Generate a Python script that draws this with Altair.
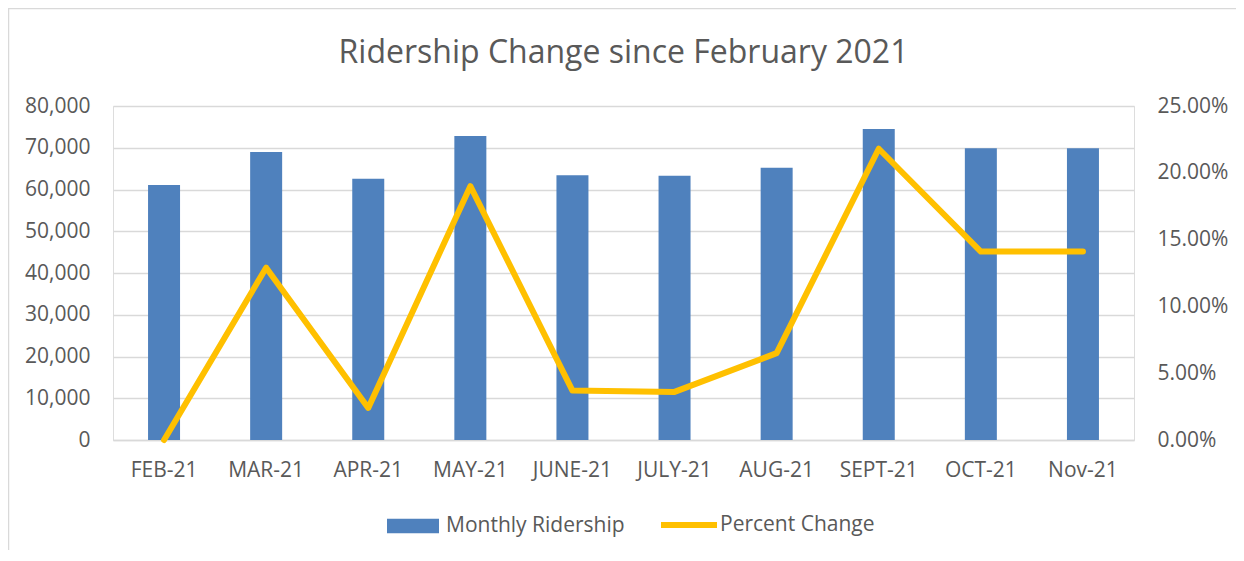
import altair as alt
import pandas as pd

months = ["FEB-21", "MAR-21", "APR-21", "MAY-21", "JUNE-21", "JULY-21",
          "AUG-21", "SEPT-21", "OCT-21", "Nov-21"]
ridership = [61100, 69000, 62600, 72800, 63400, 63300, 65200, 74500, 69900, 69900]
pct_change = [0.0, 0.129, 0.024, 0.190, 0.037, 0.036, 0.065, 0.218, 0.141, 0.141]

left_ticks = [0, 10000, 20000, 30000, 40000, 50000, 60000, 70000, 80000]
right_ticks = [0.0, 0.05, 0.10, 0.15, 0.20, 0.25]

df = pd.DataFrame({"month": months, "ridership": ridership, "pct": pct_change})

FONT = "Open Sans"
TXT = "#595959"
GRID = "#D9D9D9"
FS = 21

x_enc = alt.X("month:N", sort=months, title=None,
              scale=alt.Scale(paddingInner=0, paddingOuter=0),
              axis=alt.Axis(labelAngle=0, labelPadding=19, ticks=False,
                            domainColor=GRID, domainWidth=1.5,
                            labelFont=FONT, labelFontSize=FS, labelColor=TXT))

frame = alt.Chart(pd.DataFrame({"k": [0]})).mark_rect(
    fill=None, stroke=GRID, strokeWidth=1.5
).encode(x=alt.value(-104.5), x2=alt.value(1200), y=alt.value(-97.5), y2=alt.value(500))

bars = alt.Chart(df).transform_calculate(series="'Monthly Ridership'").mark_bar(size=32).encode(
    x=x_enc,
    y=alt.Y("ridership:Q", title=None,
            scale=alt.Scale(domain=[0, 80000], nice=False),
            axis=alt.Axis(orient="left", values=left_ticks, format=",.0f", grid=True,
                          gridColor=GRID, gridWidth=1.5, domain=False, ticks=False,
                          labelPadding=23, labelFont=FONT, labelFontSize=FS,
                          labelColor=TXT)),
    fill=alt.Fill("series:N", title=None,
                  scale=alt.Scale(domain=["Monthly Ridership"], range=["#4F81BD"]),
                  legend=alt.Legend(orient="none", legendX=274, legendY=394,
                                    symbolType="M-1,-0.28L1,-0.28L1,0.28L-1,0.28Z",
                                    symbolSize=2704, symbolStrokeWidth=0,
                                    labelFont=FONT, labelFontSize=FS, labelColor=TXT,
                                    labelOffset=7, labelLimit=400, padding=0)),
)

line = alt.Chart(df).transform_calculate(series="'Percent Change'").mark_line(
    strokeWidth=6, strokeCap="round", strokeJoin="round"
).encode(
    x=x_enc,
    y=alt.Y("pct:Q", title=None,
            scale=alt.Scale(domain=[0, 0.25], nice=False),
            axis=alt.Axis(orient="right", values=right_ticks, format=".2%", grid=False,
                          domain=False, ticks=False, labelPadding=23,
                          labelFont=FONT, labelFontSize=FS, labelColor=TXT)),
    stroke=alt.Stroke("series:N", title=None,
                      scale=alt.Scale(domain=["Percent Change"], range=["#FFC000"]),
                      legend=alt.Legend(orient="none", legendX=545, legendY=388,
                                        symbolType="stroke", symbolSize=3136,
                                        symbolStrokeWidth=6,
                                        labelFont=FONT, labelFontSize=FS, labelColor=TXT,
                                        labelOffset=0, labelLimit=400, padding=0)),
)

chart = alt.layer(frame, bars, line).resolve_scale(
    y="independent", fill="independent", stroke="independent"
).properties(
    width=1021, height=334,
    autosize=alt.AutoSizeParams(type="none"),
    padding={"left": 105, "top": 98, "right": 102, "bottom": 110},
    title=alt.TitleParams("Ridership Change since February 2021", font=FONT,
                          fontSize=32, fontWeight="normal", color=TXT,
                          anchor="middle", offset=22, dy=84),
).configure_view(stroke=None).configure(background="white")

chart.save("out.html", embed_options={"renderer": "svg", "actions": False})
